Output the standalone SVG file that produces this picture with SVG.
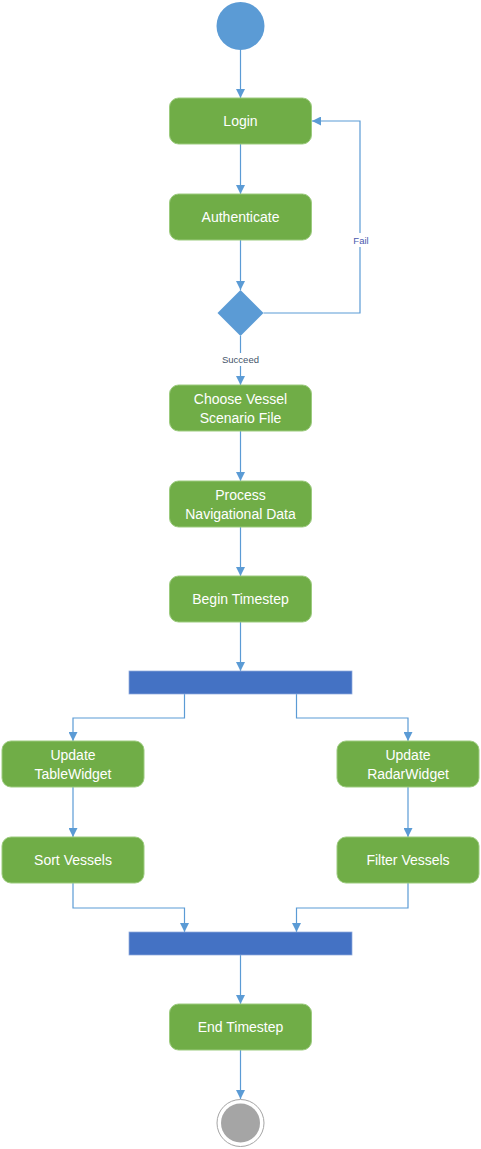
<svg xmlns="http://www.w3.org/2000/svg" width="481" height="1149" viewBox="0 0 481 1149">
<style>
.act{fill:#70AD47;stroke:#9CCB7E;stroke-width:1}
.t{font-family:"Liberation Sans",Arial,sans-serif;font-size:14px;fill:#FFFFFF;text-anchor:middle}
.bar{fill:#4472C4;stroke:#8FAADC;stroke-width:0.75}
.c{fill:none;stroke:#5B9BD5;stroke-width:1.2}
.lbl{font-family:"Liberation Sans",Arial,sans-serif;font-size:9.5px;text-anchor:middle}
</style>
<defs>
<marker id="ah" viewBox="0 0 10 10" refX="10" refY="5" markerWidth="9" markerHeight="9" markerUnits="userSpaceOnUse" orient="auto">
<path d="M0,0 L10,5 L0,10 z" fill="#5B9BD5"/>
</marker>
</defs>
<rect width="481" height="1149" fill="#FFFFFF"/>
<g id="connectors">
<path class="c" d="M240.5,50 V98" marker-end="url(#ah)"/>
<path class="c" d="M240.5,144 V194" marker-end="url(#ah)"/>
<path class="c" d="M240.5,240 V290" marker-end="url(#ah)"/>
<path class="c" d="M263.5,313 H360 V121 H312" marker-end="url(#ah)"/>
<path class="c" d="M240.5,336 V385" marker-end="url(#ah)"/>
<path class="c" d="M240.5,431 V481" marker-end="url(#ah)"/>
<path class="c" d="M240.5,527 V576" marker-end="url(#ah)"/>
<path class="c" d="M240.5,622 V671" marker-end="url(#ah)"/>
<path class="c" d="M184.5,694 V718 H73 V741" marker-end="url(#ah)"/>
<path class="c" d="M296.5,694 V718 H408 V741" marker-end="url(#ah)"/>
<path class="c" d="M73,787 V837" marker-end="url(#ah)"/>
<path class="c" d="M408,787 V837" marker-end="url(#ah)"/>
<path class="c" d="M73,883 V908 H184.5 V932" marker-end="url(#ah)"/>
<path class="c" d="M408,883 V908 H296.5 V932" marker-end="url(#ah)"/>
<path class="c" d="M240.5,955 V1004" marker-end="url(#ah)"/>
<path class="c" d="M240.5,1050 V1099" marker-end="url(#ah)"/>
<rect x="350" y="233" width="20" height="14" fill="#FFFFFF"/>
<text class="lbl" x="361" y="244" fill="#4A5AAE">Fail</text>
<rect x="220" y="353" width="41" height="13" fill="#FFFFFF"/>
<text class="lbl" x="240.5" y="363" fill="#44546A" font-size="9">Succeed</text>
</g>
<g id="start"><circle cx="240.5" cy="26" r="24" fill="#5B9BD5"/></g>
<g id="login"><rect class="act" x="169.5" y="98" width="142" height="46" rx="9"/><text class="t" x="240.5" y="126">Login</text></g>
<g id="authenticate"><rect class="act" x="169.5" y="194" width="142" height="46" rx="9"/><text class="t" x="240.5" y="222">Authenticate</text></g>
<g id="decision"><path d="M240.5,290 L263.5,313 L240.5,336 L217.5,313 z" fill="#5B9BD5"/></g>
<g id="choose"><rect class="act" x="169.5" y="385" width="142" height="46" rx="9"/><text class="t" x="240.5" y="404">Choose Vessel</text><text class="t" x="240.5" y="423">Scenario File</text></g>
<g id="process"><rect class="act" x="169.5" y="481" width="142" height="46" rx="9"/><text class="t" x="240.5" y="500">Process</text><text class="t" x="240.5" y="519">Navigational Data</text></g>
<g id="begin"><rect class="act" x="169.5" y="576" width="142" height="46" rx="9"/><text class="t" x="240.5" y="604">Begin Timestep</text></g>
<g id="fork"><rect class="bar" x="129" y="671" width="223" height="23"/></g>
<g id="updateTable"><rect class="act" x="2" y="741" width="142" height="46" rx="9"/><text class="t" x="73" y="760">Update</text><text class="t" x="73" y="779">TableWidget</text></g>
<g id="updateRadar"><rect class="act" x="337" y="741" width="142" height="46" rx="9"/><text class="t" x="408" y="760">Update</text><text class="t" x="408" y="779">RadarWidget</text></g>
<g id="sort"><rect class="act" x="2" y="837" width="142" height="46" rx="9"/><text class="t" x="73" y="865">Sort Vessels</text></g>
<g id="filter"><rect class="act" x="337" y="837" width="142" height="46" rx="9"/><text class="t" x="408" y="865">Filter Vessels</text></g>
<g id="join"><rect class="bar" x="129" y="932" width="223" height="23"/></g>
<g id="end"><rect class="act" x="169.5" y="1004" width="142" height="46" rx="9"/><text class="t" x="240.5" y="1032">End Timestep</text></g>
<g id="final"><circle cx="240.5" cy="1123" r="23.5" fill="#FFFFFF" stroke="#A5A5A5" stroke-width="1"/><circle cx="240.5" cy="1123" r="19.5" fill="#A5A5A5"/></g>
</svg>
